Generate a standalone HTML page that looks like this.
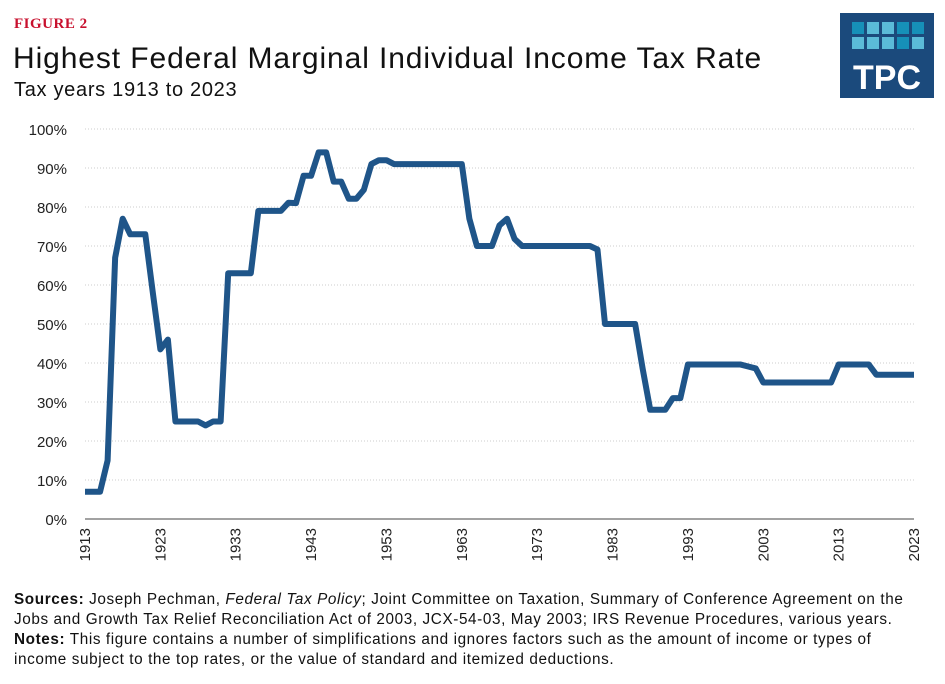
<!DOCTYPE html>
<html><head><meta charset="utf-8"><style>
body{margin:0;background:#fff;width:945px;height:684px;overflow:hidden;font-family:"Liberation Sans",sans-serif;position:relative}
.fig{position:absolute;left:14px;top:16px;color:#c8102e;font-family:"Liberation Serif",serif;font-weight:bold;font-size:15px;letter-spacing:0.5px}
.title{position:absolute;left:13px;top:42px;font-size:30px;letter-spacing:0.9px;color:#111;white-space:nowrap}
.sub{position:absolute;left:14px;top:79px;font-size:20px;letter-spacing:0.7px;color:#111;white-space:nowrap}
.foot{position:absolute;left:14px;top:590px;width:930px;font-size:15.3px;line-height:20px;color:#111;white-space:nowrap;letter-spacing:0.6px}
</style></head><body>
<div class="fig">FIGURE 2</div>
<div class="title">Highest Federal Marginal Individual Income Tax Rate</div>
<div class="sub">Tax years 1913 to 2023</div>
<svg style="position:absolute;left:840px;top:13px" width="94" height="85">
<rect width="94" height="85" fill="#1b4a7c"/>
<g id="sq"></g>
<text x="47" y="76" text-anchor="middle" fill="#fff" font-weight="bold" font-size="34" font-family="Liberation Sans,sans-serif">TPC</text>
</svg>
<svg id="chart" width="945" height="590" style="position:absolute;left:0;top:0"></svg>
<div class="foot"><b>Sources:</b> Joseph Pechman, <i>Federal Tax Policy</i>; Joint Committee on Taxation, Summary of Conference Agreement on the<br>Jobs and Growth Tax Relief Reconciliation Act of 2003, JCX-54-03, May 2003; IRS Revenue Procedures, various years.<br><b>Notes:</b> This figure contains a number of simplifications and ignores factors such as the amount of income or types of<br>income subject to the top rates, or the value of standard and itemized deductions.</div>
<script>
const years=[1913,1914,1915,1916,1917,1918,1919,1920,1921,1922,1923,1924,1925,1926,1927,1928,1929,1930,1931,1932,1933,1934,1935,1936,1937,1938,1939,1940,1941,1942,1943,1944,1945,1946,1947,1948,1949,1950,1951,1952,1953,1954,1963,1964,1965,1966,1967,1968,1969,1970,1971,1980,1981,1982,1986,1987,1988,1990,1991,1992,1993,2000,2001,2002,2003,2012,2013,2017,2018,2023];
const rates=[7,7,7,15,67,77,73,73,73,58,43.5,46,25,25,25,25,24,25,25,63,63,63,63,79,79,79,79,81.1,81,88,88,94,94,86.5,86.5,82.1,82.1,84.4,91,92,92,91,91,77,70,70,70,75.3,77,71.8,70,70,69.1,50,50,38.5,28,28,31,31,39.6,39.6,39.1,38.6,35,35,39.6,39.6,37,37];
const yTicks=[0,10,20,30,40,50,60,70,80,90,100];
const xTicks=[1913,1923,1933,1943,1953,1963,1973,1983,1993,2003,2013,2023];
const NS='http://www.w3.org/2000/svg',svg=document.getElementById('chart');
const X=y=>85+(y-1913)*(914-85)/110, Y=v=>519-v*3.9;
function mk(t,a){const e=document.createElementNS(NS,t);for(const k in a)e.setAttribute(k,a[k]);svg.appendChild(e);return e;}
yTicks.forEach(v=>{
 if(v>0){const g=mk('line',{x1:85,x2:914,y1:Y(v),y2:Y(v),stroke:'#ccc','stroke-dasharray':'1,2'});
 
 }
 const t=mk('text',{x:67,y:Y(v)+6,'text-anchor':'end','font-size':15,fill:'#222'});t.textContent=v+'%';
 
 
});
const ax=mk('line',{x1:85,x2:914,y1:519,y2:519,stroke:'#444','stroke-width':1});


xTicks.forEach(yr=>{
 const t=mk('text',{x:0,y:0,'text-anchor':'end','font-size':15,fill:'#222',transform:`translate(${X(yr)+5},528) rotate(-90)`});t.textContent=yr;
 
 
});
const p=mk('polyline',{points:years.map((y,i)=>X(y)+','+Y(rates[i])).join(' '),fill:'none',stroke:'#1f5589','stroke-width':6,'stroke-linejoin':'round'});


const sq=document.getElementById('sq');
const cols=[['#1690b8','#5bbbd8','#5bbbd8','#1690b8','#1690b8'],['#5bbbd8','#5bbbd8','#5bbbd8','#1690b8','#5bbbd8']];
cols.forEach((row,r)=>row.forEach((c,i)=>{const e=document.createElementNS(NS,'rect');
e.setAttribute('x',12+i*15);e.setAttribute('y',9+r*15);e.setAttribute('width',12);e.setAttribute('height',12);e.setAttribute('fill',c);sq.appendChild(e);}));
</script>
</body></html>
